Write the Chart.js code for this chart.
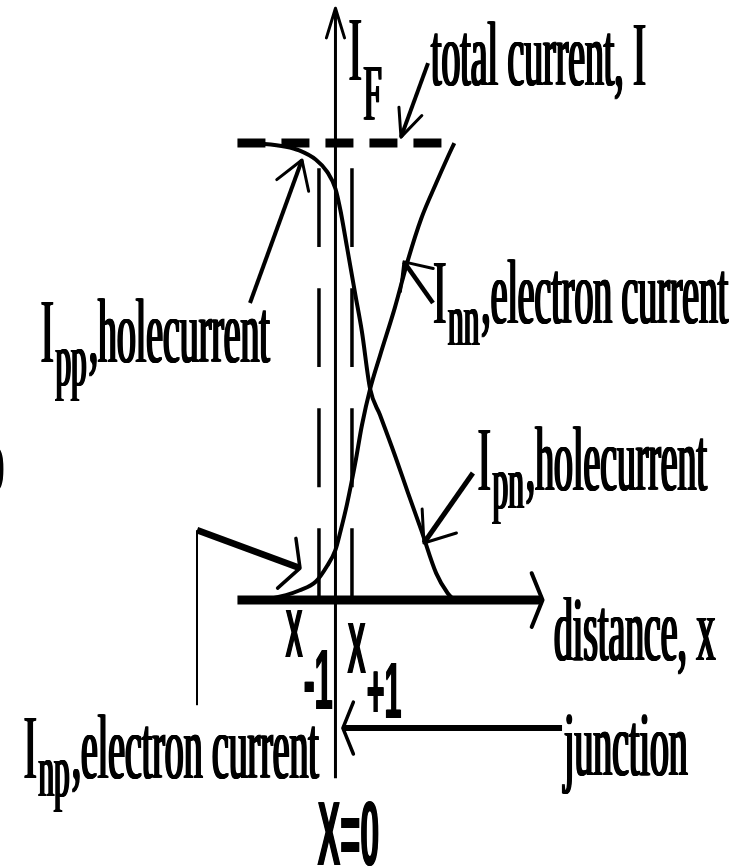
<!DOCTYPE html>
<html>
<head>
<meta charset="utf-8">
<title>p-n junction currents</title>
<script src="https://cdn.jsdelivr.net/npm/chart.js@4.4.1/dist/chart.umd.min.js"></script>
<style>
    html, body { margin: 0; padding: 0; background: #fff; }
    #diagram { display: block; }
</style>
</head>
<body>
<canvas id="diagram" width="748" height="867"></canvas>
<script>
// Forward-biased p-n junction: hole and electron current vs distance

// distance along the diode (edges of depletion layer at x = -1 and x = +1)
const distance = [-5.9, -4.3, -3.0, -2.2, -1.2, -0.5, 0, 0.3, 0.7, 1.2, 1.6, 2.1, 2.7, 3.6, 4.4, 5.2, 6.1, 6.8, 7.2];

// electron current (I_np on the p side, I_nn on the n side), fraction of I
const electronCurrent = [0, 0.002, 0.011, 0.021, 0.040, 0.075, 0.110, 0.150, 0.210, 0.300, 0.382, 0.462, 0.535, 0.640, 0.745, 0.835, 0.912, 0.969, 1.0];

// hole current (I_pp on the p side, I_pn on the n side), fraction of I
const holeCurrent = [1.0, 0.998, 0.992, 0.984, 0.964, 0.937, 0.900, 0.853, 0.772, 0.669, 0.588, 0.462, 0.405, 0.317, 0.234, 0.153, 0.059, 0.015, 0];

// total current I is flat across the device
const totalCurrent = 1.0;
const totalSpan = [-5.94, 7.24];

// depletion layer edges x_-1 and x_+1
const edgeMarks = [-1, 1];
const edgeTop = 0.945;

// visible window of the drawing
const view = { xMin: -20.33, xMax: 25.0, yMin: -0.584, yMax: 1.313 };

const SERIF = '"Liberation Serif", "Times New Roman", serif';
const SANS = '"Liberation Sans", Arial, sans-serif';

// axes and pointer arrows, in data units
const arrows = [
    { path: [[0, -0.39], [0, 1.295]], width: 3, head: { len: 31, angle: 17, width: 3 } },
    { path: [[-5.94, 0], [12.55, 0]], width: 9, head: { len: 29, angle: 68, width: 4 } },
    { path: [[5.61, 1.175], [3.97, 1.013]], width: 4, head: { len: 30, angle: 24, width: 3 } },
    { path: [[-5.18, 0.650], [-2.03, 0.963]], width: 4, head: { len: 32, angle: 32, width: 3 } },
    { path: [[5.91, 0.650], [4.15, 0.740]], width: 4.5, head: { len: 30, angle: 42, width: 3 } },
    { path: [[8.33, 0.278], [5.36, 0.125]], width: 5, head: { len: 34, angle: 38, width: 3 } },
    { path: [[-8.39, -0.230], [-8.39, 0.153]], width: 2, head: null },
    { path: [[-8.39, 0.153], [-2.15, 0.070]], width: 6.5, head: { len: 30, angle: 62, width: 3.5 } },
    { path: [[13.73, -0.280], [0.45, -0.280]], width: 6, head: { len: 28, angle: 68, width: 3.5 } }
];

// text labels: anchor is left end of the baseline, in data units
const labels = [
    { at: [0.76, 1.138], font: SERIF, size: 92, main: 'I', sub: 'F', subSize: 80, subDrop: 40 },
    { at: [5.73, 1.127], font: SERIF, size: 92, main: 'total current, I' },
    { at: [-17.91, 0.521], font: SERIF, size: 92, main: 'I', sub: 'pp', rest: ',holecurrent', subSize: 76, subDrop: 23 },
    { at: [5.88, 0.606], font: SERIF, size: 92, main: 'I', sub: 'nn', rest: ',electron current', subSize: 76, subDrop: 22 },
    { at: [8.58, 0.241], font: SERIF, size: 92, main: 'I', sub: 'pn', rest: ',holecurrent', subSize: 76, subDrop: 18 },
    { at: [-18.94, -0.389], font: SERIF, size: 92, main: 'I', sub: 'np', rest: ',electron current', subSize: 76, subDrop: 18 },
    { at: [13.18, -0.131], font: SERIF, size: 92, main: 'distance, x' },
    { at: [13.79, -0.383], font: SERIF, size: 92, main: 'junction' },
    { at: [-21.3, 0.241], font: SERIF, size: 92, main: 'o' },
    { at: [-3.06, -0.125], font: SANS, bold: true, size: 68, main: 'X', sub: '-1', subSize: 86, subDrop: 52 },
    { at: [0.70, -0.160], font: SANS, bold: true, size: 72, main: 'X', sub: '+1', subSize: 80, subDrop: 45 },
    { at: [-1.12, -0.580], font: SANS, bold: true, size: 90, main: 'X=0' }
];

// horizontal squeeze and extra stem weight (px) per family
const squeeze = { serif: 0.41, sans: 0.38 };
const stemWeight = { serif: 2, sans: 1 };

function toPoints(xs, ys) {
    return xs.map((v, i) => ({ x: v, y: ys[i] }));
}

// draw text narrowed horizontally, returns the drawn width
function narrowText(ctx, text, x, y, font, size, bold) {
    const isSans = font === SANS;
    const sx = isSans ? squeeze.sans : squeeze.serif;
    const extra = isSans ? stemWeight.sans : stemWeight.serif;
    ctx.font = (bold ? 'bold ' : '') + size + 'px ' + font;
    for (let d = 0; d <= extra; d += 0.5) {
        ctx.save();
        ctx.translate(x + d, y);
        ctx.scale(sx, 1);
        ctx.fillText(text, 0, 0);
        ctx.restore();
    }
    return ctx.measureText(text).width * sx + extra;
}

function drawLabel(ctx, l, x, y) {
    let cx = x + narrowText(ctx, l.main, x, y, l.font, l.size, l.bold);
    if (l.sub) {
        cx += narrowText(ctx, l.sub, cx, y + l.subDrop, l.font, l.subSize, l.bold);
    }
    if (l.rest) {
        narrowText(ctx, l.rest, cx, y, l.font, l.size, l.bold);
    }
}

function drawHead(ctx, from, tip, head) {
    const back = Math.atan2(from[1] - tip[1], from[0] - tip[0]);
    const a = head.angle * Math.PI / 180;
    ctx.lineWidth = head.width;
    ctx.beginPath();
    ctx.moveTo(tip[0] + head.len * Math.cos(back + a), tip[1] + head.len * Math.sin(back + a));
    ctx.lineTo(tip[0], tip[1]);
    ctx.lineTo(tip[0] + head.len * Math.cos(back - a), tip[1] + head.len * Math.sin(back - a));
    ctx.stroke();
}

// axes, pointer arrows and all text
const diagramExtras = {
    id: 'diagramExtras',
    afterDatasetsDraw(chart) {
        const { ctx, scales } = chart;
        const px = v => scales.x.getPixelForValue(v);
        const py = v => scales.y.getPixelForValue(v);

        ctx.save();
        ctx.strokeStyle = '#000';
        ctx.fillStyle = '#000';
        ctx.lineJoin = 'round';

        arrows.forEach(a => {
            const pts = a.path.map(p => [px(p[0]), py(p[1])]);
            ctx.lineCap = 'butt';
            ctx.lineWidth = a.width;
            ctx.beginPath();
            pts.forEach((p, i) => i ? ctx.lineTo(p[0], p[1]) : ctx.moveTo(p[0], p[1]));
            ctx.stroke();
            if (a.head) {
                ctx.lineCap = 'round';
                drawHead(ctx, pts[pts.length - 2], pts[pts.length - 1], a.head);
            }
        });

        ctx.textBaseline = 'alphabetic';
        ctx.textAlign = 'left';
        labels.forEach(l => drawLabel(ctx, l, px(l.at[0]), py(l.at[1])));
        ctx.restore();
    }
};

const curveStyle = {
    showLine: true,
    pointRadius: 0,
    borderColor: '#000',
    borderWidth: 4,
    cubicInterpolationMode: 'monotone',
    fill: false
};

new Chart(document.getElementById('diagram'), {
    type: 'scatter',
    data: {
        datasets: [
            {
                ...curveStyle,
                label: 'electron current',
                data: toPoints(distance, electronCurrent)
            },
            {
                ...curveStyle,
                label: 'hole current',
                data: toPoints(distance, holeCurrent)
            },
            {
                ...curveStyle,
                label: 'total current',
                data: totalSpan.map(v => ({ x: v, y: totalCurrent })),
                borderWidth: 9,
                borderDash: [28, 16]
            },
            ...edgeMarks.map(m => ({
                ...curveStyle,
                label: m < 0 ? 'x-1' : 'x+1',
                data: [{ x: m, y: edgeTop }, { x: m, y: 0 }],
                borderWidth: 3.5,
                borderDash: [79, 41]
            }))
        ]
    },
    options: {
        responsive: false,
        animation: false,
        events: [],
        layout: { padding: 0 },
        plugins: {
            legend: { display: false },
            tooltip: { enabled: false }
        },
        scales: {
            x: { type: 'linear', min: view.xMin, max: view.xMax, display: false },
            y: { type: 'linear', min: view.yMin, max: view.yMax, display: false }
        }
    },
    plugins: [diagramExtras]
});
</script>
</body>
</html>
